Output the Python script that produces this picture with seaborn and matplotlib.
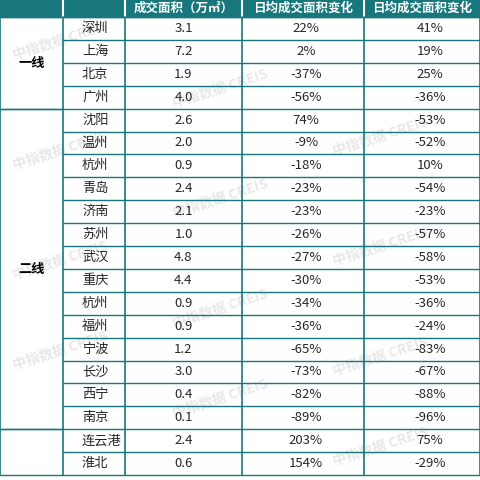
import matplotlib
matplotlib.use("Agg")
import matplotlib.pyplot as plt
import seaborn as sns

sns.set_style("white")
plt.rcParams['font.family'] = ['Noto Sans CJK SC', 'DejaVu Sans']

headers = ["", "", "成交面积（万㎡）", "日均成交面积变化", "日均成交面积变化"]
groups = [("一线", 0, 4), ("二线", 4, 18), ("", 18, 20)]
cities = ["深圳", "上海", "北京", "广州", "沈阳", "温州", "杭州", "青岛", "济南", "苏州", "武汉",
          "重庆", "杭州", "福州", "宁波", "长沙", "西宁", "南京", "连云港", "淮北"]
area = ["3.1", "7.2", "1.9", "4.0", "2.6", "2.0", "0.9", "2.4", "2.1", "1.0", "4.8",
        "4.4", "0.9", "0.9", "1.2", "3.0", "0.4", "0.1", "2.4", "0.6"]
chg1 = ["22%", "2%", "-37%", "-56%", "74%", "-9%", "-18%", "-23%", "-23%", "-26%", "-27%",
        "-30%", "-34%", "-36%", "-65%", "-73%", "-82%", "-89%", "203%", "154%"]
chg2 = ["41%", "19%", "25%", "-36%", "-53%", "-52%", "10%", "-54%", "-23%", "-57%", "-58%",
        "-53%", "-36%", "-24%", "-83%", "-67%", "-88%", "-96%", "75%", "-29%"]

teal = "#17777c"
xs = [0, 63, 125, 242, 364, 480]
hh = 17
rh = 22.9

fig = plt.figure(figsize=(4.8, 4.8), dpi=100)
ax = fig.add_axes([0, 0, 1, 1])
ax.set_xlim(0, 480)
ax.set_ylim(480, 0)
ax.axis("off")

ax.add_patch(plt.Rectangle((0, 0), 480, hh, color=teal, zorder=1))
for i in range(1, 5):
    ax.plot([xs[i], xs[i]], [0, hh], color="white", lw=1.5, zorder=2)
for i, h in enumerate(headers):
    ax.text((xs[i] + xs[i+1]) / 2, hh / 2, h, color="white", ha="center", va="center",
            fontsize=9, fontweight="bold", zorder=3)

ybot = hh + rh * len(cities)
for x in xs:
    ax.plot([x, x], [hh, ybot], color=teal, lw=1.2, zorder=2)
for r in range(len(cities) + 1):
    y = hh + r * rh
    ax.plot([63, 480], [y, y], color=teal, lw=1.0, zorder=2)
for name, a, b in groups:
    for y in (hh + a * rh, hh + b * rh):
        ax.plot([0, 63], [y, y], color=teal, lw=1.0, zorder=2)
    if name:
        ax.text(31.5, hh + (a + b) / 2 * rh, name, ha="center", va="center",
                fontsize=9.5, fontweight="bold", color="black")

for r, c in enumerate(cities):
    y = hh + (r + 0.5) * rh
    ax.text(82, y, c, ha="left", va="center", fontsize=9.5)
    ax.text(183.5, y, area[r], ha="center", va="center", fontsize=9.5)
    ax.text(306, y, chg1[r], ha="center", va="center", fontsize=9.5)
    ax.text(430, y, chg2[r], ha="center", va="center", fontsize=9.5)

for x0 in (60, 220, 380):
    for y0 in (40, 150, 260, 350):
        ax.text(x0, y0 + (x0 - 60) * 0.3, "中指数据 CREIS", rotation=18, color="#d9d9d9", alpha=0.6,
                fontsize=10, fontweight="bold", ha="center", va="center", zorder=0)

fig.savefig("out.png", dpi=100)
